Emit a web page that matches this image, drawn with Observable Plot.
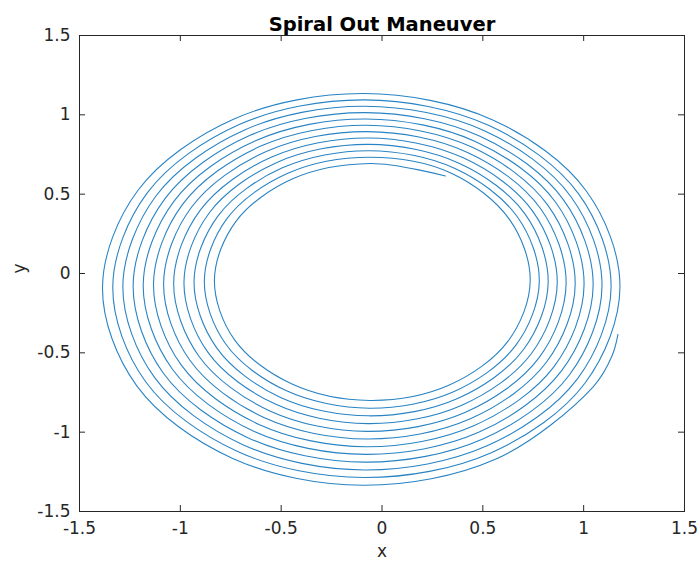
<!DOCTYPE html>
<html>
<head>
<meta charset="utf-8">
<script src="https://cdn.jsdelivr.net/npm/d3@7"></script>
<script src="https://cdn.jsdelivr.net/npm/@observablehq/plot@0.6"></script>
<style>
  body { margin: 0; background: #fff; }
</style>
</head>
<body>
<div id="chart"></div>
<script>
// Trajectory samples of the outward spiral, roughly every 30 degrees of travel,
// starting at the inner end and finishing on the outer right side.
const spiralX = [
  0.315, -0.058, -0.440, -0.724, -0.831, -0.731, -0.449, -0.060, 0.334, 0.625, 0.735, 0.632,
  0.341, -0.061, -0.467, -0.768, -0.881, -0.775, -0.476, -0.063, 0.355, 0.663, 0.780, 0.670,
  0.362, -0.064, -0.494, -0.812, -0.932, -0.819, -0.503, -0.066, 0.375, 0.702, 0.824, 0.708,
  0.382, -0.067, -0.521, -0.856, -0.982, -0.863, -0.529, -0.069, 0.396, 0.740, 0.869, 0.746,
  0.403, -0.070, -0.547, -0.900, -1.033, -0.907, -0.556, -0.072, 0.417, 0.778, 0.913, 0.784,
  0.424, -0.073, -0.574, -0.944, -1.083, -0.951, -0.583, -0.075, 0.438, 0.816, 0.958, 0.822,
  0.445, -0.076, -0.601, -0.988, -1.133, -0.996, -0.610, -0.078, 0.458, 0.854, 1.002, 0.861,
  0.465, -0.079, -0.627, -1.032, -1.184, -1.040, -0.636, -0.081, 0.479, 0.892, 1.047, 0.899,
  0.486, -0.082, -0.654, -1.076, -1.234, -1.084, -0.663, -0.084, 0.500, 0.930, 1.091, 0.937,
  0.507, -0.085, -0.681, -1.120, -1.285, -1.128, -0.690, -0.086, 0.521, 0.969, 1.136, 0.975,
  0.528, -0.088, -0.708, -1.164, -1.335, -1.172, -0.716, -0.089, 0.542, 1.007, 1.180, 1.013,
  0.549, -0.091, -0.734, -1.209, -1.386, -1.216, -0.743, -0.092, 0.562, 1.045, 1.141, 1.170
];
const spiralY = [
  0.615, 0.693, 0.598, 0.329, -0.042, -0.418, -0.695, -0.800, -0.703, -0.426, -0.045, 0.341,
  0.634, 0.733, 0.632, 0.347, -0.047, -0.444, -0.738, -0.849, -0.745, -0.453, -0.049, 0.359,
  0.662, 0.774, 0.666, 0.365, -0.051, -0.470, -0.781, -0.897, -0.788, -0.479, -0.053, 0.377,
  0.695, 0.814, 0.700, 0.383, -0.055, -0.497, -0.823, -0.946, -0.830, -0.506, -0.057, 0.395,
  0.729, 0.854, 0.734, 0.401, -0.059, -0.523, -0.866, -0.995, -0.873, -0.532, -0.062, 0.413,
  0.763, 0.894, 0.769, 0.419, -0.064, -0.550, -0.909, -1.043, -0.916, -0.558, -0.066, 0.431,
  0.797, 0.934, 0.803, 0.437, -0.068, -0.576, -0.951, -1.092, -0.958, -0.585, -0.070, 0.449,
  0.831, 0.974, 0.837, 0.455, -0.072, -0.602, -0.994, -1.140, -1.001, -0.611, -0.074, 0.466,
  0.865, 1.014, 0.871, 0.472, -0.076, -0.629, -1.036, -1.189, -1.043, -0.638, -0.078, 0.484,
  0.900, 1.054, 0.905, 0.490, -0.081, -0.655, -1.079, -1.238, -1.086, -0.664, -0.083, 0.502,
  0.934, 1.094, 0.939, 0.508, -0.085, -0.682, -1.122, -1.286, -1.129, -0.690, -0.087, 0.520,
  0.968, 1.134, 0.974, 0.526, -0.089, -0.708, -1.164, -1.335, -1.171, -0.717, -0.518, -0.384
];

const xTicks = [-1.5, -1, -0.5, 0, 0.5, 1, 1.5];
const yTicks = [-1.5, -1, -0.5, 0, 0.5, 1, 1.5];
const titleText = "Spiral Out Maneuver";
const xLabel = "x";
const yLabel = "y";

const path = spiralX.map((x, i) => ({x, y: spiralY[i]}));

// Figure geometry
const W = 698, H = 562;
const mL = 79, mR = 14, mT = 35, mB = 51;
const ink = "#262626";
const tickPx = 6;
const xLo = -1.5, xHi = 1.5, yLo = -1.5, yHi = 1.5;
const kx = (xHi - xLo) / (W - mL - mR);   // data units per pixel
const ky = (yHi - yLo) / (H - mT - mB);
const fmt = d => String(d);

const chart = Plot.plot({
  width: W,
  height: H,
  marginLeft: mL,
  marginRight: mR,
  marginTop: mT,
  marginBottom: mB,
  x: {domain: [xLo, xHi]},
  y: {domain: [yLo, yHi]},
  style: {fontFamily: "DejaVu Sans, sans-serif", fontSize: "16px", color: ink, background: "#fff", overflow: "visible"},
  marks: [
    Plot.line(path, {x: "x", y: "y", stroke: "#2a84c4", strokeWidth: 1.1, curve: "catmull-rom"}),
    Plot.frame({stroke: ink, strokeWidth: 1}),
    // inward-pointing ticks on all four sides of the box
    Plot.ruleX(xTicks, {x: d => d, y1: yLo, y2: yLo + tickPx * ky, stroke: ink}),
    Plot.ruleX(xTicks, {x: d => d, y1: yHi, y2: yHi - tickPx * ky, stroke: ink}),
    Plot.ruleY(yTicks, {y: d => d, x1: xLo, x2: xLo + tickPx * kx, stroke: ink}),
    Plot.ruleY(yTicks, {y: d => d, x1: xHi, x2: xHi - tickPx * kx, stroke: ink}),
    Plot.axisX(xTicks, {tickSize: 0, tickPadding: 10, tickFormat: fmt, label: null, fontSize: 17}),
    Plot.axisY(yTicks, {tickSize: 0, tickPadding: 9, tickFormat: fmt, label: null, fontSize: 17}),
    Plot.text([titleText], {frameAnchor: "top", dy: -18, fontWeight: "bold", fontSize: 19.5, fill: "#000"}),
    Plot.text([xLabel], {frameAnchor: "bottom", dy: 45, fontSize: 17, fill: ink}),
    Plot.text([yLabel], {frameAnchor: "left", dx: -60, rotate: -90, fontSize: 17, fill: ink})
  ]
});
document.getElementById("chart").appendChild(chart);
</script>
</body>
</html>
